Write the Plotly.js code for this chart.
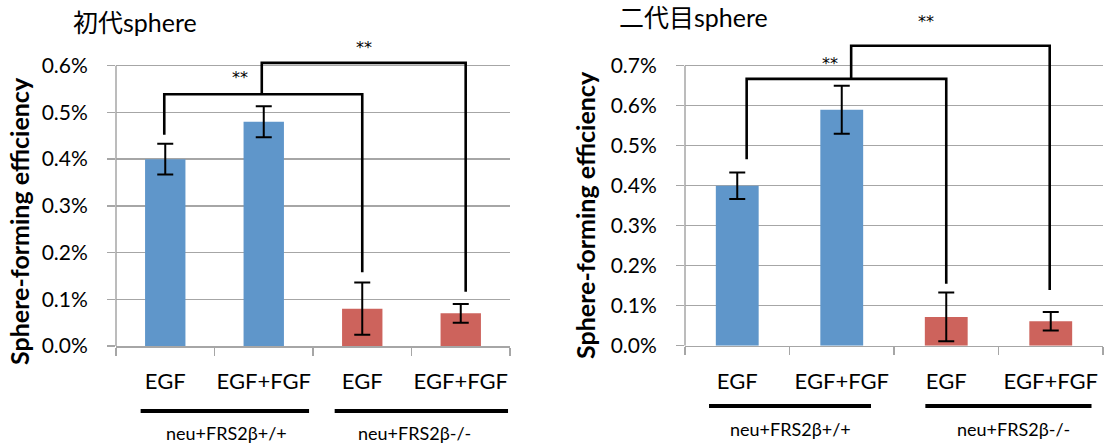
<!DOCTYPE html>
<html>
<head>
<meta charset="utf-8">
<script src="https://cdn.plot.ly/plotly-3.0.1.min.js"></script>
<style>
  html, body { margin: 0; padding: 0; background: #fff; }
  #chart { width: 1104px; height: 447px; }
</style>
</head>
<body>
<div id="chart"></div>
<script>
// ---------- data ----------
const categories = ['EGF', 'EGF+FGF', 'EGF', 'EGF+FGF'];
const groupLabels = ['neu+FRS2β+/+', 'neu+FRS2β-/-'];
const panelTitles = ['初代sphere', '二代目sphere'];
const yAxisTitle = 'Sphere-forming efficiency';
const sigLabel = '**';

// Sphere-forming efficiency (%), first generation
const gen1Values = [0.40, 0.48, 0.08, 0.07];
const gen1Errors = [0.033, 0.033, 0.056, 0.020];
// Sphere-forming efficiency (%), second generation
const gen2Values = [0.40, 0.59, 0.072, 0.061];
const gen2Errors = [0.033, 0.060, 0.061, 0.023];

const yTicks1 = [0, 0.1, 0.2, 0.3, 0.4, 0.5, 0.6];
const yTicks2 = [0, 0.1, 0.2, 0.3, 0.4, 0.5, 0.6, 0.7];
const yTickText1 = ['0.0%', '0.1%', '0.2%', '0.3%', '0.4%', '0.5%', '0.6%'];
const yTickText2 = ['0.0%', '0.1%', '0.2%', '0.3%', '0.4%', '0.5%', '0.6%', '0.7%'];

// ---------- styles ----------
const FONT = 'Lato, "Noto Sans CJK JP", sans-serif';
const BLUE = '#5F96CA';
const RED = '#CD635C';
const GRID = '#a6a6a6';
const barColors = [BLUE, BLUE, RED, RED];
const xIdx = categories.map((_, i) => i);

function barTrace(vals, errs, xa, ya) {
  return {
    type: 'bar', x: xIdx, y: vals, xaxis: xa, yaxis: ya,
    width: 0.41,
    marker: { color: barColors, line: { width: 0 } },
    error_y: { type: 'data', array: errs, visible: true, color: '#000', thickness: 2, width: 8 },
    hoverinfo: 'skip', showlegend: false
  };
}

function xAxisCfg(domain) {
  return {
    domain: domain, type: 'linear', range: [-0.5, 3.5], fixedrange: true,
    tickmode: 'array', tickvals: xIdx, ticktext: categories,
    ticks: '', showgrid: false, zeroline: false,
    showline: true, linecolor: GRID, linewidth: 1.5,
    ticklabelstandoff: 15,
    tickfont: { family: FONT, size: 22, color: '#000' },
    minor: { tickmode: 'array', tickvals: [-0.5, 0.5, 1.5, 2.5, 3.5], ticks: 'outside',
             ticklen: 8, tickcolor: GRID, tickwidth: 1.5, showgrid: false }
  };
}

function yAxisCfg(domain, ticks, tickText, rmax, anchor) {
  return {
    domain: domain, range: [0, rmax], anchor: anchor, fixedrange: true,
    tickmode: 'array', tickvals: ticks, ticktext: tickText,
    ticks: 'outside', ticklen: 8, tickcolor: GRID, tickwidth: 1.5,
    showgrid: true, gridcolor: GRID, gridwidth: 1.5,
    zeroline: false, showline: false,
    ticklabelstandoff: 15,
    tickfont: { family: FONT, size: 21, color: '#000' }
  };
}

function bracket(xa, ya, x0, y0, x1, y1, ytop) {
  return {
    type: 'path', xref: xa, yref: ya,
    path: `M ${x0},${y0} L ${x0},${ytop} L ${x1},${ytop} L ${x1},${y1}`,
    line: { color: '#000', width: 2.6 }
  };
}
function yAxisLine(xa, ya, top) {
  return { type: 'line', xref: xa + ' domain', yref: ya, x0: 0, x1: 0, y0: 0, y1: top,
           line: { color: GRID, width: 1.5 }, layer: 'below' };
}
function underline(xa, x0, x1, y) {
  return { type: 'line', xref: xa, yref: 'paper', x0: x0, x1: x1, y0: y, y1: y,
           line: { color: '#000', width: 4 } };
}

const data = [
  barTrace(gen1Values, gen1Errors, 'x', 'y'),
  barTrace(gen2Values, gen2Errors, 'x2', 'y2')
];

const shapes = [
  yAxisLine('x', 'y', yTicks1[yTicks1.length - 1]),
  yAxisLine('x2', 'y2', yTicks2[yTicks2.length - 1]),
  // panel 1 significance brackets
  bracket('x', 'y', -0.01, 0.452, 2.0, 0.158, 0.539),
  bracket('x', 'y', 0.98, 0.539, 3.05, 0.116, 0.606),
  // panel 2 significance brackets
  bracket('x2', 'y2', 0.09, 0.466, 2.0, 0.155, 0.667),
  bracket('x2', 'y2', 1.09, 0.667, 2.99, 0.139, 0.750),
  // group underlines
  underline('x', -0.25, 1.46, 0.0805),
  underline('x', 1.72, 3.48, 0.0805),
  underline('x2', -0.27, 1.28, 0.0917),
  underline('x2', 1.80, 3.39, 0.0917)
];

function txt(text, xref, yref, x, y, size, extra) {
  return Object.assign({ text: text, xref: xref, yref: yref, x: x, y: y, showarrow: false,
    xanchor: 'center', yanchor: 'middle', font: { family: FONT, size: size, color: '#000' } }, extra || {});
}

const SIGFONT = { family: '"DejaVu Sans", sans-serif', size: 16, color: '#000' };

const annotations = [
  txt(panelTitles[0], 'paper', 'paper', 134.5 / 1104, 1 - 22 / 447, 25),
  txt(panelTitles[1], 'paper', 'paper', 693.5 / 1104, 1 - 17 / 447, 25),
  txt('<b>' + yAxisTitle + '</b>', 'paper', 'paper', 19 / 1104, 1 - 221 / 447, 25, { textangle: -90 }),
  txt('<b>' + yAxisTitle + '</b>', 'paper', 'paper', 585 / 1104, 1 - 215 / 447, 25, { textangle: -90 }),
  txt(sigLabel, 'x', 'y', 0.76, 0.582, 16, { font: SIGFONT, yshift: -3 }),
  txt(sigLabel, 'x', 'y', 2.02, 0.646, 16, { font: SIGFONT, yshift: -3 }),
  txt(sigLabel, 'x2', 'y2', 0.89, 0.714, 16, { font: SIGFONT, yshift: -3 }),
  txt(sigLabel, 'x2', 'y2', 1.81, 0.819, 16, { font: SIGFONT, yshift: -3 }),
  txt(groupLabels[0], 'x', 'paper', 0.617, 0.0313, 18),
  txt(groupLabels[1], 'x', 'paper', 2.535, 0.0313, 18),
  txt(groupLabels[0], 'x2', 'paper', 0.505, 0.0403, 18),
  txt(groupLabels[1], 'x2', 'paper', 2.64, 0.0403, 18)
];

const layout = {
  width: 1104, height: 447,
  margin: { l: 0, r: 0, t: 0, b: 0 },
  paper_bgcolor: '#fff', plot_bgcolor: 'rgba(0,0,0,0)',
  font: { family: FONT, color: '#000' },
  showlegend: false,
  xaxis: Object.assign(xAxisCfg([116 / 1104, 510 / 1104]), { anchor: 'y' }),
  yaxis: yAxisCfg([0.22595, 0.92617], yTicks1, yTickText1, 0.67, 'x'),
  xaxis2: Object.assign(xAxisCfg([685 / 1104, 1103 / 1104]), { anchor: 'y2' }),
  yaxis2: yAxisCfg([0.22662, 0.96935], yTicks2, yTickText2, 0.83, 'x2'),
  shapes: shapes,
  annotations: annotations
};

Plotly.newPlot('chart', data, layout, { staticPlot: true, displayModeBar: false });
</script>
</body>
</html>
